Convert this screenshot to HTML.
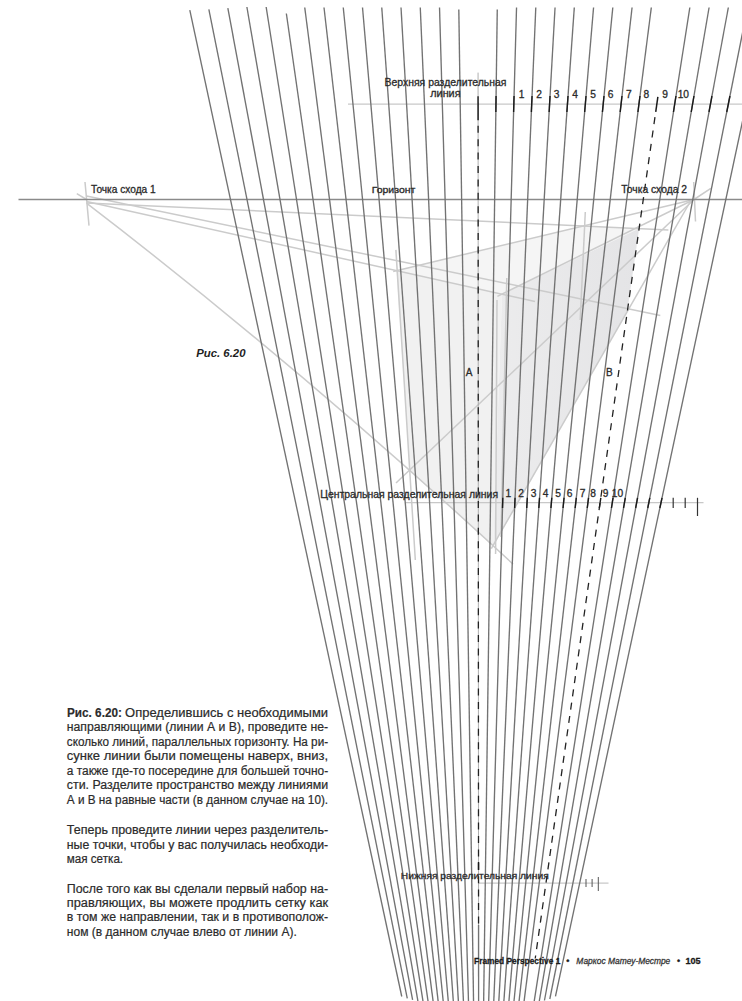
<!DOCTYPE html><html><head><meta charset="utf-8"><style>
html,body{margin:0;padding:0;background:#fff;}
body{width:742px;height:1001px;overflow:hidden;position:relative;font-family:"Liberation Sans",sans-serif;}
svg{position:absolute;left:0;top:0;}
</style></head><body>
<svg width="742" height="1001" viewBox="0 0 742 1001" font-family="Liberation Sans, sans-serif">
<polygon points="396.55,270.6 583.28,225.97 639.12,228.55 502.0,294.13" fill="#f5f5f5"/>
<polygon points="396.55,270.6 502.0,294.13 493.2,546.2 409.7,470.6" fill="#f1f1f1"/>
<defs><linearGradient id="rg" gradientUnits="userSpaceOnUse" x1="495" y1="0" x2="640" y2="0"><stop offset="0" stop-color="#ececed"/><stop offset="1" stop-color="#e4e4e6"/></linearGradient></defs>
<polygon points="502.0,294.13 639.12,228.55 627.32,311.45 493.2,546.2" fill="url(#rg)"/>
<line x1="76.8" y1="193.6" x2="86.5" y2="199.5" stroke="#cbcbcb" stroke-width="1.5"/>
<line x1="85.0" y1="182.0" x2="89.0" y2="225.6" stroke="#cbcbcb" stroke-width="1.5"/>
<line x1="693.7" y1="182.0" x2="695.5" y2="221.5" stroke="#cbcbcb" stroke-width="1.5"/>
<line x1="694.0" y1="199.5" x2="710.8" y2="188.4" stroke="#cbcbcb" stroke-width="1.5"/>
<line x1="86.5" y1="203.0" x2="668.4" y2="229.9" stroke="#cbcbcb" stroke-width="1.5"/>
<line x1="86.5" y1="196.0" x2="660.3" y2="315.6" stroke="#cbcbcb" stroke-width="1.5"/>
<line x1="86.5" y1="201.4" x2="535.0" y2="301.5" stroke="#cbcbcb" stroke-width="1.5"/>
<path d="M86.5,203.2 Q299.75,366.5 513,564.1" fill="none" stroke="#cbcbcb" stroke-width="1.5"/>
<line x1="694.0" y1="199.5" x2="393.2" y2="271.4" stroke="#cbcbcb" stroke-width="1.5"/>
<line x1="694.0" y1="199.5" x2="497.4" y2="296.4" stroke="#cbcbcb" stroke-width="1.5"/>
<line x1="694.0" y1="199.5" x2="396.0" y2="483.0" stroke="#cbcbcb" stroke-width="1.5"/>
<line x1="691.5" y1="199.5" x2="491.3" y2="548.7" stroke="#cbcbcb" stroke-width="1.5"/>
<line x1="395.9" y1="249.9" x2="415.3" y2="560.0" stroke="#cbcbcb" stroke-width="1.5"/>
<line x1="585.3" y1="212.0" x2="580.2" y2="320.0" stroke="#cbcbcb" stroke-width="1.5"/>
<line x1="506.8" y1="278.0" x2="501.0" y2="537.0" stroke="#cbcbcb" stroke-width="1.5"/>
<line x1="497.0" y1="300.0" x2="495.6" y2="554.0" stroke="#cbcbcb" stroke-width="1.5"/>
<line x1="18.5" y1="199.6" x2="742.0" y2="199.6" stroke="#8a8a8a" stroke-width="1.5"/>
<line x1="348.0" y1="104.1" x2="742.0" y2="104.1" stroke="#c8c8c8" stroke-width="1.3"/>
<line x1="405.7" y1="502.6" x2="703.5" y2="502.6" stroke="#c8c8c8" stroke-width="1.3"/>
<line x1="478.3" y1="883.2" x2="608.5" y2="883.2" stroke="#c8c8c8" stroke-width="1.3"/>
<line x1="189.80" y1="10.2" x2="401.76" y2="996.5" stroke="#727272" stroke-width="1.35"/>
<line x1="208.85" y1="9.4" x2="407.26" y2="998.4" stroke="#727272" stroke-width="1.35"/>
<line x1="227.84" y1="8.1" x2="412.62" y2="999.8" stroke="#727272" stroke-width="1.35"/>
<line x1="246.89" y1="7" x2="418.76" y2="1006" stroke="#727272" stroke-width="1.35"/>
<line x1="266.15" y1="7" x2="423.75" y2="1006" stroke="#727272" stroke-width="1.35"/>
<line x1="286.35" y1="13.5" x2="428.73" y2="1006" stroke="#727272" stroke-width="1.35"/>
<line x1="304.74" y1="7.5" x2="433.72" y2="1006" stroke="#727272" stroke-width="1.35"/>
<line x1="324.00" y1="7.5" x2="438.71" y2="1006" stroke="#727272" stroke-width="1.35"/>
<line x1="343.25" y1="7.5" x2="443.69" y2="1006" stroke="#727272" stroke-width="1.35"/>
<line x1="362.51" y1="7.5" x2="448.68" y2="1006" stroke="#727272" stroke-width="1.35"/>
<line x1="381.76" y1="7.5" x2="453.67" y2="1006" stroke="#727272" stroke-width="1.35"/>
<line x1="401.01" y1="7.5" x2="458.65" y2="1006" stroke="#727272" stroke-width="1.35"/>
<line x1="420.27" y1="7.5" x2="463.64" y2="1006" stroke="#727272" stroke-width="1.35"/>
<line x1="439.52" y1="7.5" x2="468.63" y2="1006" stroke="#727272" stroke-width="1.35"/>
<line x1="458.81" y1="9.4" x2="473.61" y2="1006" stroke="#727272" stroke-width="1.35"/>
<line x1="497.26" y1="9.4" x2="483.59" y2="1006" stroke="#727272" stroke-width="1.35"/>
<line x1="516.54" y1="7.5" x2="488.57" y2="1006" stroke="#727272" stroke-width="1.35"/>
<line x1="535.79" y1="7.5" x2="493.56" y2="1006" stroke="#727272" stroke-width="1.35"/>
<line x1="555.05" y1="7.5" x2="498.55" y2="1006" stroke="#727272" stroke-width="1.35"/>
<line x1="574.30" y1="7.5" x2="503.54" y2="1006" stroke="#727272" stroke-width="1.35"/>
<line x1="593.56" y1="7.5" x2="508.52" y2="1006" stroke="#727272" stroke-width="1.35"/>
<line x1="612.81" y1="7.5" x2="513.51" y2="1006" stroke="#727272" stroke-width="1.35"/>
<line x1="632.07" y1="7.5" x2="518.50" y2="1006" stroke="#727272" stroke-width="1.35"/>
<line x1="651.32" y1="7.5" x2="523.48" y2="1006" stroke="#727272" stroke-width="1.35"/>
<line x1="689.83" y1="7.5" x2="533.46" y2="1006" stroke="#727272" stroke-width="1.35"/>
<line x1="709.08" y1="7.5" x2="538.44" y2="1006" stroke="#727272" stroke-width="1.35"/>
<line x1="728.34" y1="7.5" x2="544.45" y2="1000.5" stroke="#727272" stroke-width="1.35"/>
<line x1="749.09" y1="0" x2="549.81" y2="999" stroke="#727272" stroke-width="1.35"/>
<line x1="768.45" y1="0" x2="555.46" y2="996.4" stroke="#727272" stroke-width="1.35"/>
<line x1="478.07" y1="72.6" x2="478.55" y2="925" stroke="#9a9a9a" stroke-width="0.8"/>
<line x1="478.10" y1="125.8" x2="478.55" y2="925" stroke="#222" stroke-width="1.3" stroke-dasharray="7 6.4"/>
<line x1="478.55" y1="925" x2="478.60" y2="1006" stroke="#727272" stroke-width="1.35"/>
<line x1="654.96" y1="117.2" x2="535.23" y2="958.5" stroke="#222" stroke-width="1.3" stroke-dasharray="7.07 6.37"/>
<line x1="478.08" y1="96.2" x2="478.10" y2="120.2" stroke="#1a1a1a" stroke-width="1.4"/>
<line x1="496.07" y1="96" x2="495.85" y2="112" stroke="#1a1a1a" stroke-width="1.4"/>
<line x1="514.06" y1="96" x2="513.61" y2="112" stroke="#1a1a1a" stroke-width="1.4"/>
<line x1="532.05" y1="96" x2="531.37" y2="112" stroke="#1a1a1a" stroke-width="1.4"/>
<line x1="550.04" y1="96" x2="549.14" y2="112" stroke="#1a1a1a" stroke-width="1.4"/>
<line x1="568.03" y1="96" x2="566.90" y2="112" stroke="#1a1a1a" stroke-width="1.4"/>
<line x1="586.02" y1="96" x2="584.66" y2="112" stroke="#1a1a1a" stroke-width="1.4"/>
<line x1="604.01" y1="96" x2="602.42" y2="112" stroke="#1a1a1a" stroke-width="1.4"/>
<line x1="622.00" y1="96" x2="620.18" y2="112" stroke="#1a1a1a" stroke-width="1.4"/>
<line x1="639.99" y1="96" x2="637.94" y2="112" stroke="#1a1a1a" stroke-width="1.4"/>
<line x1="657.87" y1="96.8" x2="655.73" y2="111.8" stroke="#1a1a1a" stroke-width="1.5"/>
<line x1="675.97" y1="96" x2="673.46" y2="112" stroke="#1a1a1a" stroke-width="1.4"/>
<line x1="693.96" y1="96" x2="691.23" y2="112" stroke="#1a1a1a" stroke-width="1.4"/>
<line x1="711.95" y1="96" x2="708.99" y2="112" stroke="#1a1a1a" stroke-width="1.4"/>
<line x1="729.94" y1="96" x2="726.75" y2="112" stroke="#1a1a1a" stroke-width="1.4"/>
<line x1="502.81" y1="497.8" x2="502.52" y2="508" stroke="#1a1a1a" stroke-width="1.4"/>
<line x1="515.06" y1="497.8" x2="514.63" y2="508" stroke="#1a1a1a" stroke-width="1.4"/>
<line x1="527.31" y1="497.8" x2="526.73" y2="508" stroke="#1a1a1a" stroke-width="1.4"/>
<line x1="539.55" y1="497.8" x2="538.83" y2="508" stroke="#1a1a1a" stroke-width="1.4"/>
<line x1="551.80" y1="497.8" x2="550.93" y2="508" stroke="#1a1a1a" stroke-width="1.4"/>
<line x1="564.05" y1="497.8" x2="563.04" y2="508" stroke="#1a1a1a" stroke-width="1.4"/>
<line x1="576.30" y1="497.8" x2="575.14" y2="508" stroke="#1a1a1a" stroke-width="1.4"/>
<line x1="588.55" y1="497.8" x2="587.24" y2="508" stroke="#1a1a1a" stroke-width="1.4"/>
<line x1="600.80" y1="497.8" x2="599.34" y2="508" stroke="#1a1a1a" stroke-width="1.4"/>
<line x1="613.04" y1="497.8" x2="611.45" y2="508" stroke="#1a1a1a" stroke-width="1.4"/>
<line x1="625.29" y1="497.8" x2="623.55" y2="508" stroke="#1a1a1a" stroke-width="1.4"/>
<line x1="637.54" y1="497.8" x2="635.65" y2="508" stroke="#1a1a1a" stroke-width="1.4"/>
<line x1="649.79" y1="497.8" x2="647.76" y2="508" stroke="#1a1a1a" stroke-width="1.4"/>
<line x1="662.04" y1="497.8" x2="659.86" y2="508" stroke="#1a1a1a" stroke-width="1.4"/>
<line x1="673.2" y1="497.8" x2="673.2" y2="508.0" stroke="#333" stroke-width="1.2"/>
<line x1="685.2" y1="497.8" x2="685.2" y2="508.0" stroke="#333" stroke-width="1.2"/>
<line x1="697.5" y1="497.8" x2="697.5" y2="516.0" stroke="#333" stroke-width="1.2"/>
<line x1="478.52" y1="862" x2="478.52" y2="870" stroke="#1a1a1a" stroke-width="1.4"/>
<line x1="586.0" y1="879.0" x2="586.0" y2="887.0" stroke="#555" stroke-width="1.0"/>
<line x1="592.1" y1="879.0" x2="592.1" y2="887.0" stroke="#555" stroke-width="1.0"/>
<line x1="598.3" y1="877.0" x2="598.3" y2="891.0" stroke="#555" stroke-width="1.0"/>
<text x="384.5" y="86.3" font-size="10.6" font-weight="normal" font-style="normal" fill="#2a2a2a" stroke="#2a2a2a" stroke-width="0.3" textLength="122" lengthAdjust="spacingAndGlyphs">Верхняя разделительная</text>
<text x="430.3" y="97.3" font-size="10.6" font-weight="normal" font-style="normal" fill="#2a2a2a" stroke="#2a2a2a" stroke-width="0.3" textLength="30.2" lengthAdjust="spacingAndGlyphs">линия</text>
<text x="521.6" y="97.5" font-size="10.2" font-weight="normal" font-style="normal" fill="#2a2a2a" stroke="#2a2a2a" stroke-width="0.3" text-anchor="middle">1</text>
<text x="539" y="97.5" font-size="10.2" font-weight="normal" font-style="normal" fill="#2a2a2a" stroke="#2a2a2a" stroke-width="0.3" text-anchor="middle">2</text>
<text x="556.6" y="97.5" font-size="10.2" font-weight="normal" font-style="normal" fill="#2a2a2a" stroke="#2a2a2a" stroke-width="0.3" text-anchor="middle">3</text>
<text x="575" y="97.5" font-size="10.2" font-weight="normal" font-style="normal" fill="#2a2a2a" stroke="#2a2a2a" stroke-width="0.3" text-anchor="middle">4</text>
<text x="593" y="97.5" font-size="10.2" font-weight="normal" font-style="normal" fill="#2a2a2a" stroke="#2a2a2a" stroke-width="0.3" text-anchor="middle">5</text>
<text x="610.5" y="97.5" font-size="10.2" font-weight="normal" font-style="normal" fill="#2a2a2a" stroke="#2a2a2a" stroke-width="0.3" text-anchor="middle">6</text>
<text x="628.8" y="97.5" font-size="10.2" font-weight="normal" font-style="normal" fill="#2a2a2a" stroke="#2a2a2a" stroke-width="0.3" text-anchor="middle">7</text>
<text x="646.4" y="97.5" font-size="10.2" font-weight="normal" font-style="normal" fill="#2a2a2a" stroke="#2a2a2a" stroke-width="0.3" text-anchor="middle">8</text>
<text x="665" y="97.5" font-size="10.2" font-weight="normal" font-style="normal" fill="#2a2a2a" stroke="#2a2a2a" stroke-width="0.3" text-anchor="middle">9</text>
<text x="683.3" y="97.5" font-size="10.2" font-weight="normal" font-style="normal" fill="#2a2a2a" stroke="#2a2a2a" stroke-width="0.3" text-anchor="middle">10</text>
<text x="91" y="192.8" font-size="10.1" font-weight="normal" font-style="normal" fill="#2a2a2a" stroke="#2a2a2a" stroke-width="0.3" textLength="64.7" lengthAdjust="spacingAndGlyphs">Точка схода 1</text>
<text x="371.7" y="192.7" font-size="9.4" font-weight="normal" font-style="normal" fill="#2a2a2a" stroke="#2a2a2a" stroke-width="0.3" textLength="43.7" lengthAdjust="spacingAndGlyphs">Горизонт</text>
<text x="621.3" y="193.1" font-size="10.1" font-weight="normal" font-style="normal" fill="#2a2a2a" stroke="#2a2a2a" stroke-width="0.3" textLength="65.7" lengthAdjust="spacingAndGlyphs">Точка схода 2</text>
<text x="196.2" y="357.3" font-size="11.3" font-weight="bold" font-style="italic" fill="#1e1e1e" textLength="49.3" lengthAdjust="spacingAndGlyphs">Рис. 6.20</text>
<text x="465.8" y="375.6" font-size="10.0" font-weight="normal" font-style="normal" fill="#2a2a2a" stroke="#2a2a2a" stroke-width="0.3">A</text>
<text x="606.0" y="375.6" font-size="10.0" font-weight="normal" font-style="normal" fill="#2a2a2a" stroke="#2a2a2a" stroke-width="0.3">B</text>
<text x="320.2" y="497.5" font-size="10.2" font-weight="normal" font-style="normal" fill="#2a2a2a" stroke="#2a2a2a" stroke-width="0.3" textLength="177.9" lengthAdjust="spacingAndGlyphs">Центральная разделительная линия</text>
<text x="508.4" y="497.2" font-size="10.2" font-weight="normal" font-style="normal" fill="#2a2a2a" stroke="#2a2a2a" stroke-width="0.3" text-anchor="middle">1</text>
<text x="521.1" y="497.2" font-size="10.2" font-weight="normal" font-style="normal" fill="#2a2a2a" stroke="#2a2a2a" stroke-width="0.3" text-anchor="middle">2</text>
<text x="533.6" y="497.2" font-size="10.2" font-weight="normal" font-style="normal" fill="#2a2a2a" stroke="#2a2a2a" stroke-width="0.3" text-anchor="middle">3</text>
<text x="545.7" y="497.2" font-size="10.2" font-weight="normal" font-style="normal" fill="#2a2a2a" stroke="#2a2a2a" stroke-width="0.3" text-anchor="middle">4</text>
<text x="558.2" y="497.2" font-size="10.2" font-weight="normal" font-style="normal" fill="#2a2a2a" stroke="#2a2a2a" stroke-width="0.3" text-anchor="middle">5</text>
<text x="569.5" y="497.2" font-size="10.2" font-weight="normal" font-style="normal" fill="#2a2a2a" stroke="#2a2a2a" stroke-width="0.3" text-anchor="middle">6</text>
<text x="582.5" y="497.2" font-size="10.2" font-weight="normal" font-style="normal" fill="#2a2a2a" stroke="#2a2a2a" stroke-width="0.3" text-anchor="middle">7</text>
<text x="593.2" y="497.2" font-size="10.2" font-weight="normal" font-style="normal" fill="#2a2a2a" stroke="#2a2a2a" stroke-width="0.3" text-anchor="middle">8</text>
<text x="605.6" y="497.2" font-size="10.2" font-weight="normal" font-style="normal" fill="#2a2a2a" stroke="#2a2a2a" stroke-width="0.3" text-anchor="middle">9</text>
<text x="617.5" y="497.2" font-size="10.2" font-weight="normal" font-style="normal" fill="#2a2a2a" stroke="#2a2a2a" stroke-width="0.3" text-anchor="middle">10</text>
<text x="400.8" y="878.5" font-size="9.6" font-weight="normal" font-style="normal" fill="#2a2a2a" stroke="#2a2a2a" stroke-width="0.3" textLength="147.9" lengthAdjust="spacingAndGlyphs">Нижняя разделительная линия</text>
<text x="67.0" y="717.0" font-size="12.0" font-weight="bold" font-style="normal" fill="#2b2b2b" stroke="#2b2b2b" stroke-width="0.15" textLength="54.9" lengthAdjust="spacingAndGlyphs">Рис. 6.20:</text>
<text x="125.1" y="717.0" font-size="12.0" font-weight="normal" font-style="normal" fill="#2b2b2b" stroke="#2b2b2b" stroke-width="0.2" textLength="203.0" lengthAdjust="spacingAndGlyphs">Определившись с необходимыми</text>
<text x="66.8" y="731.1" font-size="12.0" font-weight="normal" font-style="normal" fill="#2b2b2b" stroke="#2b2b2b" stroke-width="0.2" textLength="261.3" lengthAdjust="spacingAndGlyphs">направляющими (линии А и В), проведите не-</text>
<text x="66.8" y="745.6" font-size="12.0" font-weight="normal" font-style="normal" fill="#2b2b2b" stroke="#2b2b2b" stroke-width="0.2" textLength="261.3" lengthAdjust="spacingAndGlyphs">сколько линий, параллельных горизонту. На ри-</text>
<text x="66.8" y="759.9" font-size="12.0" font-weight="normal" font-style="normal" fill="#2b2b2b" stroke="#2b2b2b" stroke-width="0.2" textLength="261.3" lengthAdjust="spacingAndGlyphs">сунке линии были помещены наверх, вниз,</text>
<text x="66.8" y="774.7" font-size="12.0" font-weight="normal" font-style="normal" fill="#2b2b2b" stroke="#2b2b2b" stroke-width="0.2" textLength="261.3" lengthAdjust="spacingAndGlyphs">а также где-то посередине для большей точно-</text>
<text x="66.8" y="789.0" font-size="12.0" font-weight="normal" font-style="normal" fill="#2b2b2b" stroke="#2b2b2b" stroke-width="0.2" textLength="261.3" lengthAdjust="spacingAndGlyphs">сти. Разделите пространство между линиями</text>
<text x="66.8" y="803.8" font-size="12.0" font-weight="normal" font-style="normal" fill="#2b2b2b" stroke="#2b2b2b" stroke-width="0.2" textLength="261.3" lengthAdjust="spacingAndGlyphs">А и В на равные части (в данном случае на 10).</text>
<text x="66.8" y="833.8" font-size="12.0" font-weight="normal" font-style="normal" fill="#2b2b2b" stroke="#2b2b2b" stroke-width="0.2" textLength="261.3" lengthAdjust="spacingAndGlyphs">Теперь проведите линии через разделитель-</text>
<text x="66.8" y="848.8" font-size="12.0" font-weight="normal" font-style="normal" fill="#2b2b2b" stroke="#2b2b2b" stroke-width="0.2" textLength="261.3" lengthAdjust="spacingAndGlyphs">ные точки, чтобы у вас получилась необходи-</text>
<text x="66.8" y="863.2" font-size="12.0" font-weight="normal" font-style="normal" fill="#2b2b2b" stroke="#2b2b2b" stroke-width="0.2" textLength="56.3" lengthAdjust="spacingAndGlyphs">мая сетка.</text>
<text x="66.8" y="892.5" font-size="12.0" font-weight="normal" font-style="normal" fill="#2b2b2b" stroke="#2b2b2b" stroke-width="0.2" textLength="261.3" lengthAdjust="spacingAndGlyphs">После того как вы сделали первый набор на-</text>
<text x="66.8" y="906.9" font-size="12.0" font-weight="normal" font-style="normal" fill="#2b2b2b" stroke="#2b2b2b" stroke-width="0.2" textLength="261.3" lengthAdjust="spacingAndGlyphs">правляющих, вы можете продлить сетку как</text>
<text x="66.8" y="921.3" font-size="12.0" font-weight="normal" font-style="normal" fill="#2b2b2b" stroke="#2b2b2b" stroke-width="0.2" textLength="261.3" lengthAdjust="spacingAndGlyphs">в том же направлении, так и в противополож-</text>
<text x="66.8" y="936.3" font-size="12.0" font-weight="normal" font-style="normal" fill="#2b2b2b" stroke="#2b2b2b" stroke-width="0.2" textLength="230.0" lengthAdjust="spacingAndGlyphs">ном (в данном случае влево от линии А).</text>
<text x="474.1" y="964.2" font-size="9.4" font-weight="bold" font-style="normal" fill="#1a1a1a" stroke="#1a1a1a" stroke-width="0.3" textLength="86.2" lengthAdjust="spacingAndGlyphs">Framed Perspective 1</text>
<text x="567.8" y="964.2" font-size="9" font-weight="bold" font-style="normal" fill="#1a1a1a" stroke="#1a1a1a" stroke-width="0.3" text-anchor="middle">•</text>
<text x="576.3" y="964.2" font-size="9.4" font-weight="normal" font-style="italic" fill="#333" stroke="#333" stroke-width="0.3" textLength="94" lengthAdjust="spacingAndGlyphs">Маркос Матеу-Местре</text>
<text x="678.6" y="964.2" font-size="9" font-weight="bold" font-style="normal" fill="#1a1a1a" stroke="#1a1a1a" stroke-width="0.3" text-anchor="middle">•</text>
<text x="685.5" y="964.2" font-size="9.4" font-weight="bold" font-style="normal" fill="#1a1a1a" stroke="#1a1a1a" stroke-width="0.3" textLength="15.2" lengthAdjust="spacingAndGlyphs">105</text>
</svg></body></html>
